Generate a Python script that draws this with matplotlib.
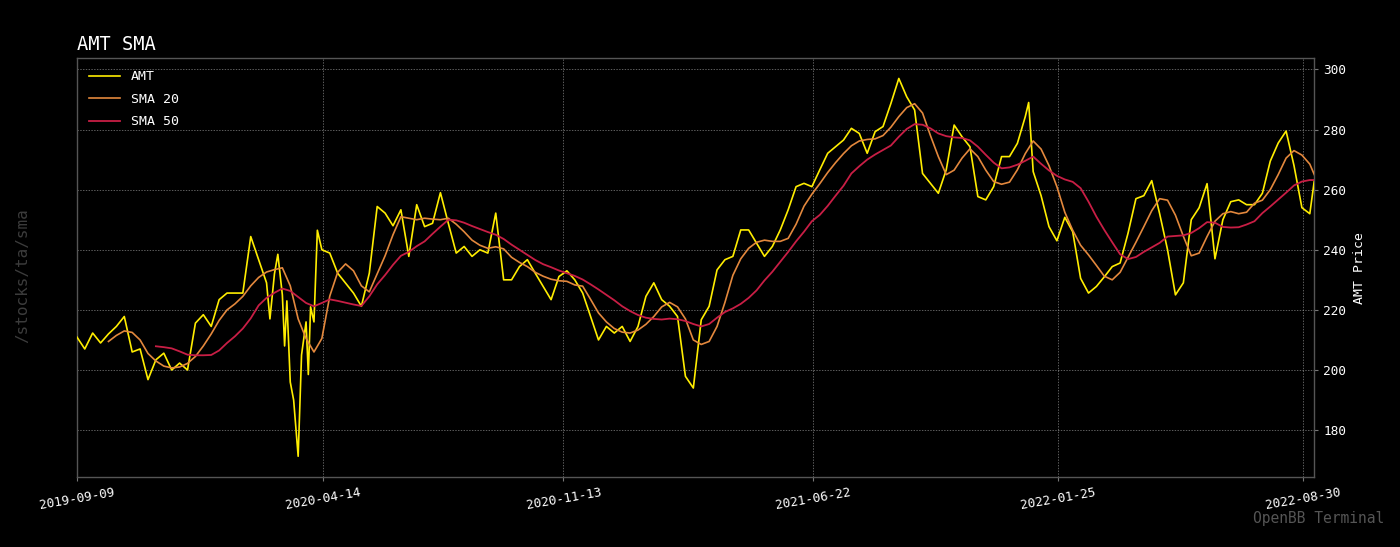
import matplotlib
matplotlib.use("Agg")
import matplotlib.pyplot as plt
import pandas as pd

# ---------------- data (weekly samples) ----------------
amt_prices = [
    211, 207, 212.3, 209, 212, 214.5, 217.8, 206, 207, 196.8,
    203.4, 205.6, 200, 202.3, 200, 215.6, 218.4, 214.5, 223.4, 225.6,
    225.6, 225.6, 244.4, 236.7, 229, 232, 225, 196, 171.3, 216,
    216, 240, 238.9, 232.2, 228.9, 225.6, 221.2, 232.2, 254.4, 252.2,
    248, 253.3, 237.8, 255, 247.7, 248.8, 259, 248.8, 238.9, 241.1,
    237.8, 240, 238.9, 252.2, 230, 230, 234.4, 236.7, 232.2, 227.8,
    223.4, 231.1, 233, 230, 225.6, 217.8, 210, 214.5, 212.3, 214.5,
    209.5, 214.5, 224.5, 229, 223.4, 221.2, 217.8, 197.9, 194, 216.7,
    221.2, 233.3, 236.7, 237.8, 246.6, 246.6, 242.2, 237.8, 241.1, 246.6,
    253.3, 261, 262.1, 261, 266.6, 272.1, 274.3, 276.5, 280.4, 278.7,
    272.1, 279.3, 281, 288.7, 297, 290.9, 286.5, 265.4, 262.1, 258.8,
    266.6, 281.5, 277.6, 274.3, 257.7, 256.6, 261, 271, 271, 275.4,
    284.3, 266, 258, 247.7, 243, 250.8, 246, 230.5, 225.6, 227.8,
    231, 234.4, 235.6, 245.5, 257, 258, 263, 252, 240, 225,
    229, 250, 254, 262, 237, 250, 256, 256.6, 255, 255,
    258.8, 269.5, 275.5, 279.5, 268, 254, 252, 263,
]

# extra intra-week points where the price swings sharply
extra_dates = ["2020-02-27", "2020-03-05", "2020-03-11", "2020-03-13", "2020-03-19",
               "2020-03-26", "2020-04-01", "2020-04-03", "2020-04-09", "2021-12-30"]
extra_prices = [217, 238.5, 208, 223, 190, 205, 198.5, 221, 246.5, 289]

sma20_values = [
    209.5, 211.5, 213, 212.5, 210, 205.5, 203, 201.3, 200.7, 201,
    202.2, 204.5, 208, 212, 216.5, 220, 222, 224.5, 228, 230.8,
    232.6, 233.4, 234, 228, 217, 210.5, 206, 210.5, 224.6, 232.5,
    235.3, 233, 228, 226, 232, 238, 245, 251, 250.5, 250,
    250.5, 250.2, 250, 250.5, 248.5, 246, 243.2, 241.5, 240.5, 241,
    240.3, 237.5, 235.8, 234.4, 232.5, 231.2, 230.2, 229.7, 229.5, 228.3,
    227.9, 223.5, 219, 216, 213.8, 212.6, 212.3, 213.3, 215.2, 217.8,
    221, 222.5, 221, 217, 210, 208.5, 209.5, 214.5, 222.5, 231.5,
    237, 240.5, 242.5, 243.2, 242.8, 242.8, 243.8, 248.5, 254.5, 258.5,
    262, 265.7, 269, 272, 274.6, 276.2, 276.7, 276.9, 278, 280.8,
    284.3, 287.3, 288.6, 285.5, 278, 271, 265, 266.5, 270.5, 273.6,
    271, 266.5, 262.7, 261.8, 262.5, 266.6, 272, 276.2, 273.5, 268,
    261, 252.5, 246.5, 241.5, 238.3, 234.8, 231.2, 230, 232.5, 237.5,
    242.5, 247.7, 253, 257, 256.5, 251.5, 244.5, 238, 238.9, 244.4,
    249.5, 252, 252.7, 252, 252.5, 255.5, 256.5, 260, 265, 270.5,
    273, 271.5, 268.5, 265,
]

sma50_values = [
    207.9, 207.6, 207.2, 206.2, 205.1, 204.9, 204.9, 205, 206.5, 209,
    211.2, 213.8, 217.2, 221.5, 224, 225.7, 227.1, 226.3, 224.3, 222.3,
    221.2, 222.3, 223.5, 223, 222.4, 221.8, 221.3, 224.5, 228.5, 231.6,
    235, 238, 239.3, 241.2, 242.8, 245.3, 247.7, 250, 249.8, 249,
    247.9, 246.9, 245.9, 245, 243.6, 241.7, 240, 238.3, 236.6, 235.2,
    234.2, 233.1, 232.2, 231.3, 230.1, 228.5, 226.8, 225, 223.2, 221.2,
    219.6, 218.3, 217.4, 217, 216.8, 217.1, 216.9, 216.3, 215.3, 214.5,
    215.3, 217.4, 219.3, 220.5, 222, 224, 226.5, 229.8, 232.7, 236,
    239.3, 242.8, 246, 249.5, 251.6, 254.6, 258, 261.3, 265.4, 267.8,
    270, 271.7, 273.2, 274.7, 277.6, 280.2, 281.8, 281.6, 280.4, 278.7,
    277.8, 277.4, 277.2, 276.4, 274.3, 271.6, 269, 267.1, 267.4, 268.3,
    269.6, 271, 268.6, 266.4, 264.6, 263.4, 262.6, 260.5, 256, 251,
    246.6, 242.5, 238.5, 236.9, 237.6, 239.3, 240.8, 242.3, 244.4, 244.6,
    244.8, 245.6, 247.2, 249.2, 249, 247.6, 247.4, 247.5, 248.4, 249.5,
    252.2, 254.4, 256.7, 259, 261.4, 262.7, 263.2, 263.2,
]

dates = list(pd.date_range("2019-09-09", "2022-09-05", freq="7D")) + [pd.Timestamp("2022-09-09")]
tick_labels = ["2019-09-09", "2020-04-14", "2020-11-13", "2021-06-22", "2022-01-25", "2022-08-30"]
y_ticks = [180, 200, 220, 240, 260, 280, 300]

price = pd.concat([
    pd.Series(amt_prices, index=pd.DatetimeIndex(dates)),
    pd.Series(extra_prices, index=pd.to_datetime(extra_dates)),
]).sort_index()
sma20 = pd.Series(sma20_values, index=pd.DatetimeIndex(dates[len(dates) - len(sma20_values):]))
sma50 = pd.Series(sma50_values, index=pd.DatetimeIndex(dates[len(dates) - len(sma50_values):]))

# ---------------- plotting ----------------
MONO = "DejaVu Sans Mono"
plt.rcParams["font.family"] = MONO

fig = plt.figure(figsize=(14, 5.47), dpi=100, facecolor="black")
ax = fig.add_axes([0.0549, 0.1274, 0.8839, 0.766])
ax.set_facecolor("black")

ax.plot(price.index, price.values, color="#ffed00", lw=1.2, label="AMT", zorder=3)
ax.plot(sma20.index, sma20.values, color="#e3883d", lw=1.2, label="SMA 20", zorder=4)
ax.plot(sma50.index, sma50.values, color="#c81e45", lw=1.3, label="SMA 50", zorder=5)

ax.set_xlim(dates[0], dates[-1])
ax.set_ylim(164.3, 303.7)

ax.set_xticks([pd.Timestamp(t) for t in tick_labels])
ax.set_xticklabels(tick_labels, rotation=10, ha="center")
ax.set_yticks(y_ticks)
ax.set_yticklabels([str(v) for v in y_ticks])

ax.yaxis.tick_right()
ax.yaxis.set_label_position("right")
ax.set_ylabel("AMT Price", color="white", fontsize=9.5, labelpad=5)

ax.tick_params(axis="both", colors="white", labelsize=9.2)
ax.tick_params(axis="both", color="#777777", length=3)
for sp in ax.spines.values():
    sp.set_color("#555555")
    sp.set_linewidth(1.0)

ax.grid(True, color="#bbbbbb", linestyle=(0, (2, 2)), linewidth=0.5, alpha=0.7)

ax.set_title("AMT SMA", loc="left", color="white", fontsize=13.5, pad=6)

leg = ax.legend(loc="upper left", frameon=False, fontsize=9.5, handlelength=2.4,
                labelspacing=0.72, borderaxespad=0.5)
for t in leg.get_texts():
    t.set_color("white")

fig.text(0.016, 0.497, "/stocks/ta/sma", rotation=90, color="#3c3c3c", fontsize=11.5,
         ha="center", va="center")
fig.text(0.989, 0.053, "OpenBB Terminal", color="#555555", fontsize=10.5,
         ha="right", va="center")

fig.savefig("out.png", dpi=100, facecolor="black")
